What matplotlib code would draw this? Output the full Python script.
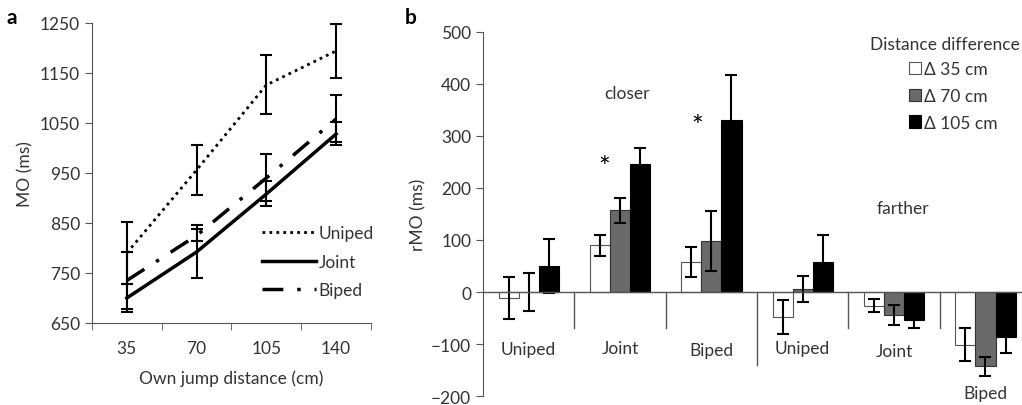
#!/usr/bin/env python3
import matplotlib
matplotlib.use('Agg')
import matplotlib.pyplot as plt
import numpy as np

plt.rcParams['font.family'] = ['Lato', 'DejaVu Sans']

# panel a
distances = ['35', '70', '105', '140']
uniped_mo = [790, 956, 1126, 1194]
uniped_err = [62, 50, 59, 54]
joint_mo = [700, 792, 908, 1028]
joint_err = [28, 53, 25, 23]
biped_mo = [735, 825, 940, 1058]
biped_err = [57, 12, 47, 47]

# panel b
groups = ['Uniped', 'Joint', 'Biped', 'Uniped', 'Joint', 'Biped']
d35 = [-11, 90, 57, -48, -26, -101]
d35_err = [40, 20, 29, 32, 12, 31]
d70 = [0, 157, 98, 6, -44, -143]
d70_err = [37, 24, 57, 25, 20, 19]
d105 = [50, 246, 330, 57, -54, -87]
d105_err = [52, 30, 87, 53, 16, 30]
label_y = [-110, -108, -112, -108, -113, -195]

TXT = '#333333'
AX = '#555555'
FS = 12.5


def style_axes(ax):
    for s in ['top', 'right']:
        ax.spines[s].set_visible(False)
    for s in ['left', 'bottom']:
        ax.spines[s].set_color(AX)
    ax.tick_params(colors=AX, labelcolor=TXT, labelsize=FS, direction='out', length=5)


def main():
    fig = plt.figure(figsize=(10.22, 4.06), dpi=100)

    # ---- a ----
    ax = fig.add_axes([0.090, 0.202, 0.273, 0.739])
    x = np.arange(len(distances))
    ax.plot(x, uniped_mo, color='black', lw=2, linestyle=(0, (1, 1.5)), label='Uniped')
    ax.plot(x, joint_mo, color='black', lw=2.5, label='Joint')
    ax.plot(x, biped_mo, color='black', lw=2.5, linestyle=(0, (6, 4, 1, 4)), label='Biped')
    for vals, errs in [(uniped_mo, uniped_err), (joint_mo, joint_err), (biped_mo, biped_err)]:
        ax.errorbar(x, vals, yerr=errs, fmt='none', ecolor='black', elinewidth=1.5,
                    capsize=4, capthick=1.5)
    ax.set_xlim(-0.5, 3.5)
    ax.set_ylim(650, 1250)
    ax.set_yticks(range(650, 1251, 100))
    ax.set_xticks(x)
    ax.set_xticklabels(distances)
    ax.set_xticks(np.arange(-0.5, 3.6, 1), minor=True)
    style_axes(ax)
    ax.tick_params(axis='x', which='major', length=0, pad=12)
    ax.tick_params(axis='x', which='minor', length=5, colors=AX, direction='out')
    ax.set_xlabel('Own jump distance (cm)', fontsize=FS, color=TXT, labelpad=10)
    ax.set_ylabel('MO (ms)', fontsize=FS, color=TXT, labelpad=5)
    leg = ax.legend(loc='lower right', bbox_to_anchor=(1.065, 0.03), frameon=False,
                    fontsize=FS, handlelength=3.1, handletextpad=0.15, labelspacing=0.72)
    for t in leg.get_texts():
        t.set_color(TXT)
    fig.text(0.006, 0.94, 'a', fontsize=15, fontweight='bold')

    # ---- b ----
    bx = fig.add_axes([0.4726, 0.022, 0.5274, 0.897])
    xb = np.arange(len(groups)) + 0.5
    w = 0.22
    bx.bar(xb - w, d35, w, color='white', edgecolor='#555555', lw=0.8, label='Δ 35 cm')
    bx.bar(xb, d70, w, color='#6a6a6a', edgecolor='#333333', lw=0.8, label='Δ 70 cm')
    bx.bar(xb + w, d105, w, color='black', edgecolor='black', lw=0.8, label='Δ 105 cm')
    for off, vals, errs in [(-w, d35, d35_err), (0, d70, d70_err), (w, d105, d105_err)]:
        bx.errorbar(xb + off, vals, yerr=errs, fmt='none', ecolor='black', elinewidth=1.5,
                    capsize=4, capthick=1.5)
    bx.axhline(0, color=AX, lw=1)
    for i in range(1, len(groups)):
        bottom = -140 if i == 3 else -70
        bx.plot([i, i], [0, bottom], color=AX, lw=1)
    for i, g in enumerate(groups):
        bx.text(xb[i], label_y[i], g, ha='center', va='center', fontsize=FS, color=TXT)
    bx.set_xlim(0, 5.9)
    bx.set_ylim(-200, 500)
    bx.set_yticks(range(-200, 501, 100))
    bx.set_xticks([])
    style_axes(bx)
    bx.spines['bottom'].set_visible(False)
    bx.set_ylabel('rMO (ms)', fontsize=FS, color=TXT, labelpad=3)
    bx.text(1.58, 382, 'closer', ha='center', va='center', fontsize=FS, color=TXT)
    bx.text(4.6, 162, 'farther', ha='center', va='center', fontsize=FS, color=TXT)
    bx.text(1.33, 238, '*', ha='center', va='center', fontsize=20, color='black')
    bx.text(2.34, 318, '*', ha='center', va='center', fontsize=20, color='black')
    bx.text(0.857, 0.967, 'Distance difference', transform=bx.transAxes,
            ha='center', va='center', fontsize=FS, color=TXT)
    leg2 = bx.legend(loc='upper left', bbox_to_anchor=(0.79, 0.92), frameon=False,
                     fontsize=FS, borderpad=0, borderaxespad=0,
                     handlelength=0.7, handleheight=0.7, handletextpad=0.2,
                     labelspacing=0.62)
    for t in leg2.get_texts():
        t.set_color(TXT)
    fig.text(0.396, 0.94, 'b', fontsize=15, fontweight='bold')

    fig.savefig('out.png', dpi=100)


if __name__ == '__main__':
    main()
